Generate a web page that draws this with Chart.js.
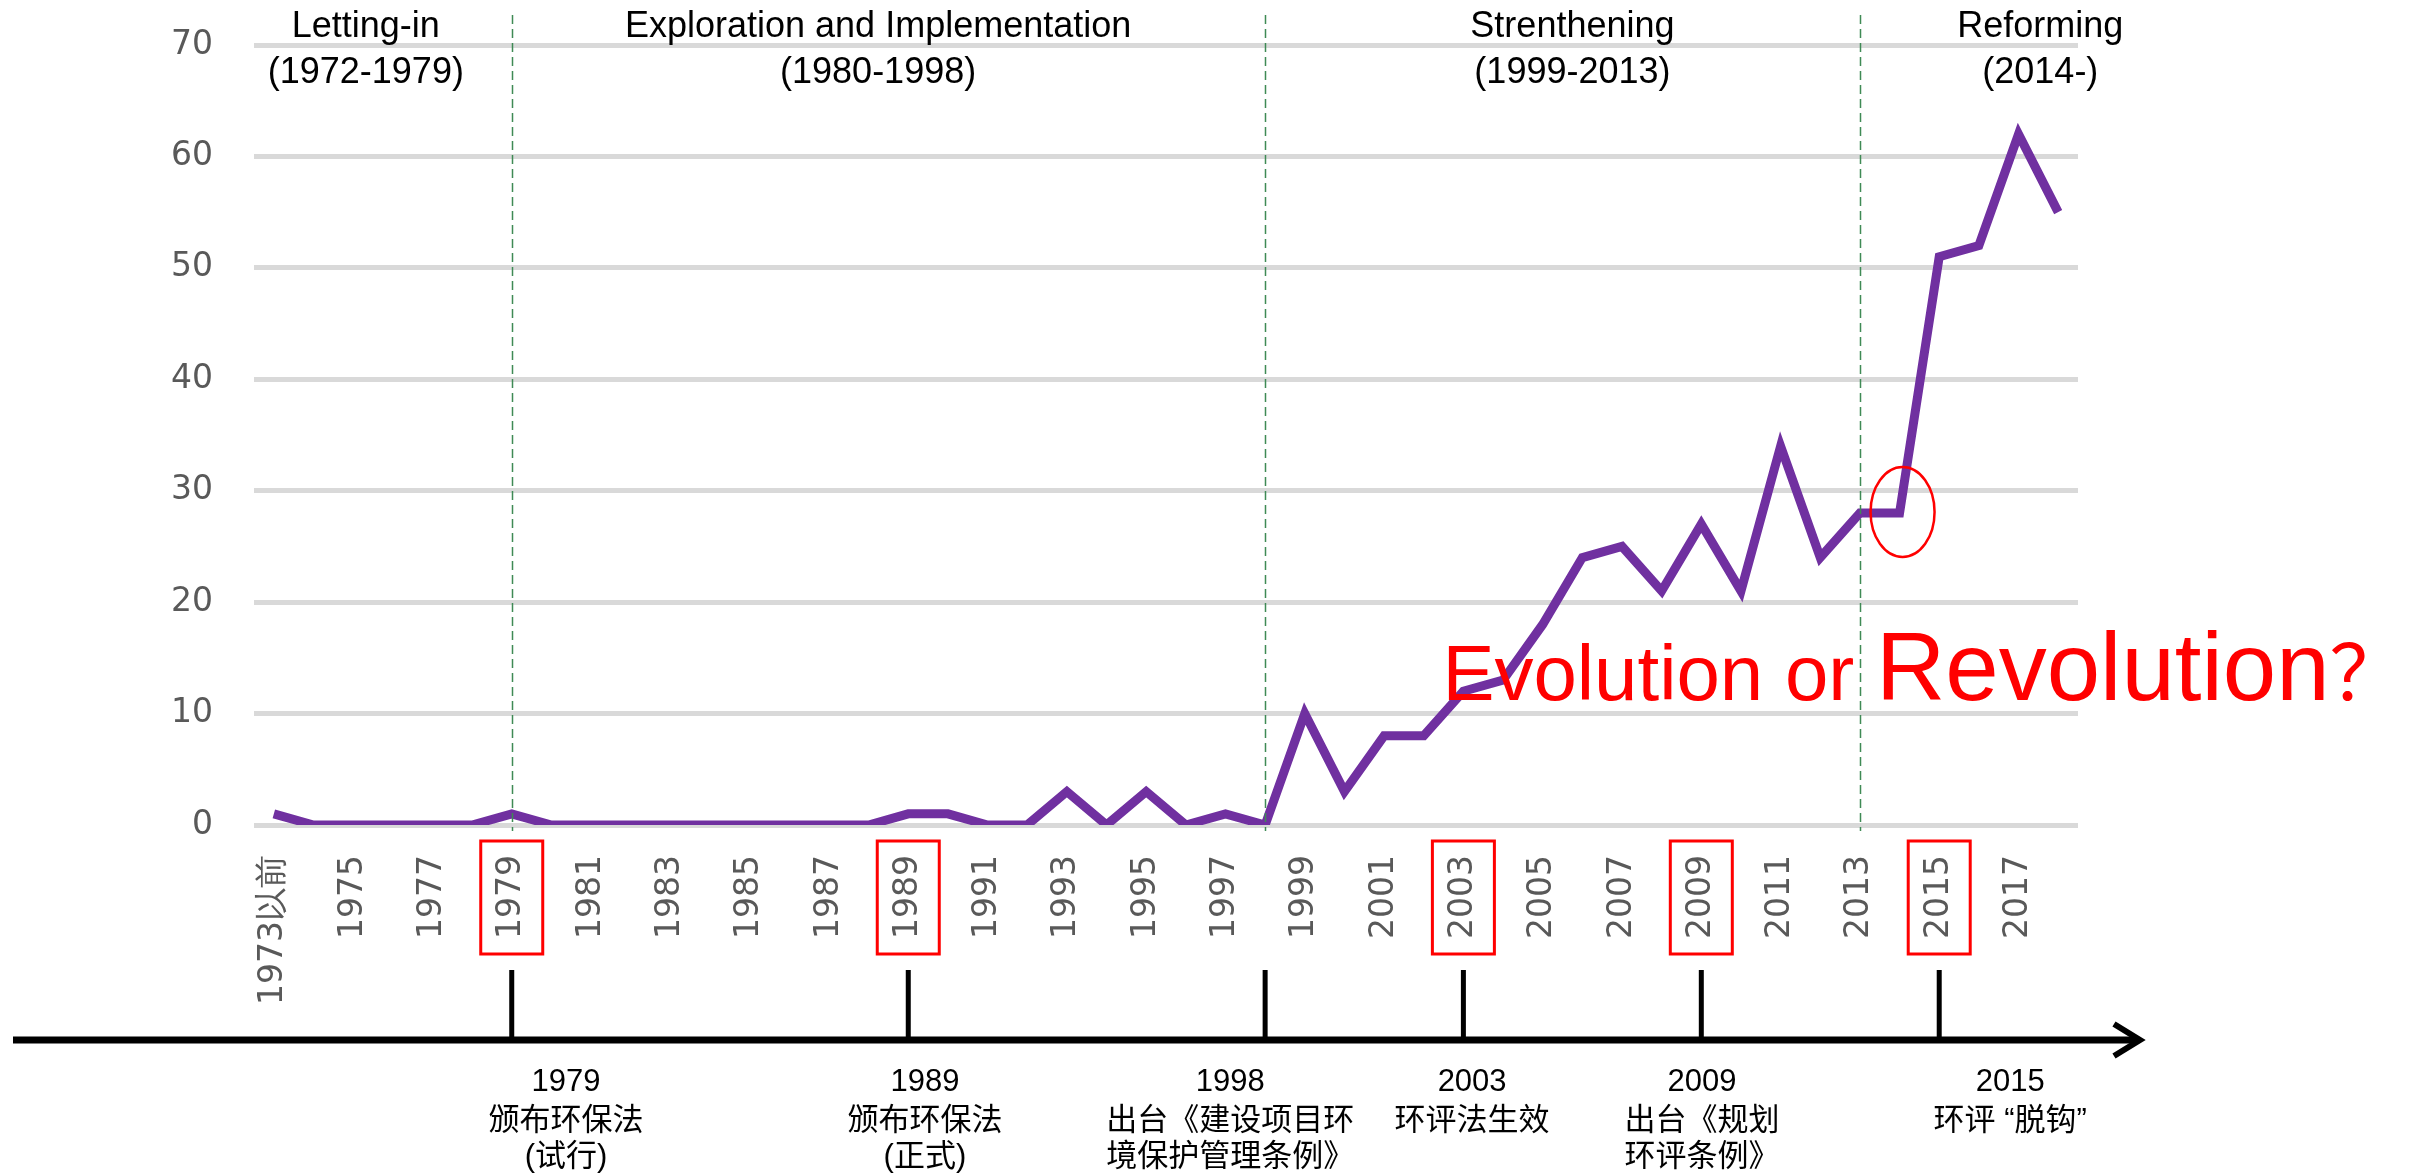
<!DOCTYPE html>
<html>
<head>
<meta charset="utf-8">
<script src="https://cdn.jsdelivr.net/npm/chart.js@4.4.1/dist/chart.umd.min.js"></script>
<style>
html,body{margin:0;padding:0;background:#ffffff;}
canvas{display:block;}
</style>
</head>
<body>
<canvas id="c" width="2416" height="1174"></canvas>
<script>
// ---------------- DATA ----------------
const categories = ['1973以前','1974','1975','1976','1977','1978','1979','1980','1981','1982','1983','1984','1985','1986','1987','1988','1989','1990','1991','1992','1993','1994','1995','1996','1997','1998','1999','2000','2001','2002','2003','2004','2005','2006','2007','2008','2009','2010','2011','2012','2013','2014','2015','2016','2017','2018'];
const values = [1,0,0,0,0,0,1,0,0,0,0,0,0,0,0,0,1,1,0,0,3,0,3,0,1,0,10,3,8,8,12,13,18,24,25,21,27,21,34,24,28,28,51,52,62,55];
const shownTickLabels = ['1973以前','1975','1977','1979','1981','1983','1985','1987','1989','1991','1993','1995','1997','1999','2001','2003','2005','2007','2009','2011','2013','2015','2017'];
const yTickValues = [0,10,20,30,40,50,60,70];
const boxedYears = ['1979','1989','2003','2009','2015'];
const phaseBoundaryYears = ['1979','1998','2013'];
const phaseNames = ['Letting-in','Exploration and Implementation','Strenthening','Reforming'];
const phaseSpans = ['(1972-1979)','(1980-1998)','(1999-2013)','(2014-)'];
const milestoneYears = ['1979','1989','1998','2003','2009','2015'];
const milestoneTexts = [
  ['1979','颁布环保法','(试行)'],
  ['1989','颁布环保法','(正式)'],
  ['1998','出台《建设项目环','境保护管理条例》'],
  ['2003','环评法生效'],
  ['2009','出台《规划','环评条例》'],
  ['2015','环评 “脱钩”']
];
const highlightYear = '2014';
const questionParts = ['Evolution or ','Revolution','？'];

// ---------------- LAYOUT (positions, not data) ----------------
const phaseLabelPos = [2.32, 15.24, 32.75, 44.55];      // in category-index units
const milestoneTextPos = [7.37, 16.42, 24.12, 30.22, 36.02, 43.79];
const questionPos = {x: 29.47, y: 11.2};

const overlay = {
  id: 'overlay',
  afterDraw(chart) {
    const ctx = chart.ctx;
    const xs = chart.scales.x, ys = chart.scales.y;
    const idx = (y) => categories.indexOf(y);
    ctx.save();

    // phase boundary dashed lines
    ctx.strokeStyle = '#3f8a55';
    ctx.lineWidth = 1.5;
    ctx.setLineDash([9, 5]);
    phaseBoundaryYears.forEach(y => {
      const x = Math.round(xs.getPixelForValue(idx(y))) + 0.5;
      ctx.beginPath();
      ctx.moveTo(x, 15);
      ctx.lineTo(x, ys.bottom + 6);
      ctx.stroke();
    });
    ctx.setLineDash([]);

    // phase labels
    ctx.fillStyle = '#000000';
    ctx.textAlign = 'center';
    ctx.textBaseline = 'alphabetic';
    ctx.font = '36px "Liberation Sans", Arial, sans-serif';
    phaseNames.forEach((t, i) => {
      const x = xs.getPixelForValue(phaseLabelPos[i]);
      ctx.fillText(t, x, 37);
      ctx.fillText(phaseSpans[i], x, 83);
    });

    // red boxes around tick labels
    ctx.strokeStyle = '#ff0000';
    ctx.lineWidth = 3;
    boxedYears.forEach(y => {
      const x = xs.getPixelForValue(idx(y));
      ctx.strokeRect(x - 31, ys.bottom + 16, 62, 113);
    });

    // ellipse around highlight
    const hi = idx(highlightYear);
    ctx.lineWidth = 2.5;
    ctx.beginPath();
    ctx.ellipse(xs.getPixelForValue(hi) + 3, ys.getPixelForValue(values[hi]) - 1, 32, 45, 0, 0, Math.PI * 2);
    ctx.stroke();

    // Evolution or Revolution？
    ctx.fillStyle = '#ff0000';
    ctx.textAlign = 'left';
    let qx = xs.getPixelForValue(questionPos.x);
    const qy = ys.getPixelForValue(questionPos.y);
    ctx.font = '78px "Liberation Sans", Arial, sans-serif';
    ctx.fillText(questionParts[0], qx, qy);
    qx += ctx.measureText(questionParts[0]).width;
    ctx.font = '96px "Liberation Sans", Arial, sans-serif';
    ctx.fillText(questionParts[1], qx, qy);
    qx += ctx.measureText(questionParts[1]).width;
    ctx.font = '76px "Noto Sans CJK SC", sans-serif';
    ctx.fillText(questionParts[2], qx, qy);

    // timeline arrow
    const ty = 1040;
    ctx.strokeStyle = '#000000';
    ctx.lineWidth = 7;
    ctx.lineCap = 'butt';
    ctx.beginPath();
    ctx.moveTo(13, ty);
    ctx.lineTo(2136, ty);
    ctx.stroke();
    ctx.lineWidth = 6;
    ctx.lineJoin = 'miter';
    ctx.beginPath();
    ctx.moveTo(2114, ty - 16);
    ctx.lineTo(2140, ty);
    ctx.lineTo(2114, ty + 16);
    ctx.stroke();

    // milestone ticks
    ctx.lineWidth = 5;
    milestoneYears.forEach(y => {
      const x = xs.getPixelForValue(idx(y));
      ctx.beginPath();
      ctx.moveTo(x, 970);
      ctx.lineTo(x, ty);
      ctx.stroke();
    });

    // milestone texts
    ctx.fillStyle = '#000000';
    ctx.textAlign = 'center';
    ctx.font = '31px "Liberation Sans", "Noto Sans CJK SC", sans-serif';
    const lineYs = [1091, 1130, 1166];
    milestoneTexts.forEach((lines, i) => {
      const x = xs.getPixelForValue(milestoneTextPos[i]);
      lines.forEach((t, j) => ctx.fillText(t, x, lineYs[j]));
    });

    ctx.restore();
  }
};

new Chart(document.getElementById('c'), {
  type: 'line',
  data: {
    labels: categories,
    datasets: [{
      data: values,
      borderColor: '#7030a0',
      borderWidth: 9,
      pointRadius: 0,
      tension: 0,
      fill: false
    }]
  },
  options: {
    responsive: false,
    animation: false,
    layout: {padding: {left: 154, right: 338, top: 45, bottom: 139}},
    plugins: {legend: {display: false}, tooltip: {enabled: false}},
    scales: {
      x: {
        type: 'category',
        offset: true,
        grid: {display: false, drawTicks: false},
        border: {display: false},
        ticks: {
          autoSkip: false,
          minRotation: 90,
          maxRotation: 90,
          padding: 30,
          color: '#595959',
          font: {family: 'DejaVu Sans', size: 33},
          callback: function(v, i) { const l = categories[i]; return shownTickLabels.includes(l) ? l : ''; }
        },
        afterFit: (s) => { s.height = 210; }
      },
      y: {
        min: 0,
        max: 70,
        afterBuildTicks: (s) => { s.ticks = yTickValues.map(v => ({value: v})); },
        ticks: {
          padding: 0,
          color: '#595959',
          font: {family: 'DejaVu Sans', size: 33}
        },
        grid: {color: '#d9d9d9', lineWidth: 5, drawTicks: true, tickLength: 41, tickColor: 'rgba(0,0,0,0)'},
        border: {display: false},
        afterFit: (s) => { s.width = 100; }
      }
    }
  },
  plugins: [overlay]
});
</script>
</body>
</html>
